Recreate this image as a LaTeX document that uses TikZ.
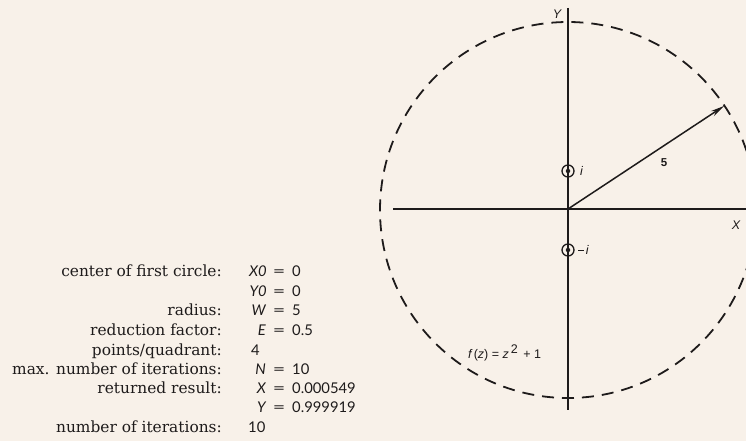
\documentclass[tikz,border=0pt]{standalone}
\usepackage{fontspec}
\setmainfont{DejaVu Serif}
\newfontfamily\valfont{Lato}
\newfontfamily\diafont{Liberation Sans}
\usetikzlibrary{arrows.meta}
\definecolor{paper}{RGB}{248,241,233}
\definecolor{ink}{RGB}{30,27,27}
\tikzset{
  axis/.style={draw=ink, line width=1.8pt},
  dashcirc/.style={draw=ink, line width=1.8pt, dash pattern=on 12pt off 8pt},
  radiusarrow/.style={draw=ink, line width=1.5pt, -{Stealth[length=14pt,width=6pt]}},
  rootmark/.style={circle, draw=ink, line width=1.3pt, minimum size=12pt, inner sep=0pt},
  rootdot/.style={circle, fill=ink, minimum size=4.5pt, inner sep=0pt},
  dialabel/.style={font=\diafont\itshape\fontsize{12.5}{14}\selectfont, text=ink, inner sep=0pt},
  lbl/.style={font=\fontsize{15.4}{18}\selectfont, text=ink, anchor=base east, inner sep=0pt},
  var/.style={font=\valfont\itshape\fontsize{14.8}{17}\selectfont, text=ink, anchor=base east, inner sep=0pt},
  eqs/.style={font=\valfont\fontsize{14.8}{17}\selectfont, text=ink, anchor=base, inner sep=0pt},
  val/.style={font=\valfont\fontsize{14.8}{17}\selectfont, text=ink, anchor=base west, inner sep=0pt}
}
\newcommand{\wideeq}{\scalebox{1.45}[1]{=}}
\begin{document}
\begin{tikzpicture}[x=1pt,y=-1pt]
\useasboundingbox (0,0) rectangle (746,441);
\fill[paper] (0,0) rectangle (746,441);
\begin{scope}
\clip (0,0) rectangle (746,441);
% axes
\coordinate (O) at (568,209);
\coordinate (Ytop) at (568,8);
\coordinate (Ybot) at (568,410);
\coordinate (Xl) at (393,209);
\coordinate (Xr) at (750,209);
\draw[axis] (Ytop) -- (Ybot);
\draw[axis] (Xl) -- (Xr);
% dashed circle
\coordinate (C) at (568,210);
\draw[dashcirc] (C) circle[radius=188pt];
% radius arrow
\coordinate (P) at (724,106);
\draw[radiusarrow] (O) -- (P);
\node[dialabel, font=\diafont\bfseries\fontsize{11.5}{13}\selectfont] (five) at (664,163) {5};
% roots
\node[rootmark] (ri) at (568,171) {};
\node[rootdot] (rid) at (ri.center) {};
\node[dialabel, anchor=west] (li) at (580,171) {i};
\node[rootmark] (rmi) at (568,250) {};
\node[rootdot] (rmid) at (rmi.center) {};
\node[dialabel, anchor=west] (lmi) at (578,250) {\upshape\diafont\rule[3.4pt]{5.5pt}{1.1pt}\,\itshape i};
% axis labels
\node[dialabel] (ylab) at (557,14) {Y};
\node[dialabel] (xlab) at (736,225) {X};
% function
\node[dialabel, anchor=base west, font=\diafont\fontsize{12.5}{14}\selectfont] (fz) at (468,358)
  {\itshape f\upshape\,(\itshape z\upshape) = \itshape z\upshape\,\raisebox{5pt}{2}\ \,+ 1};
\end{scope}
% parameter list
\node[lbl] (l1) at (222,276) {center of first circle:};
\node[var] (v1) at (267,276) {X0};
\node[eqs] (e1) at (279,276) {\wideeq};
\node[val] (n1) at (292,276) {0};
\node[var] (v2) at (267,296) {Y0};
\node[eqs] (e2) at (279,296) {\wideeq};
\node[val] (n2) at (292,296) {0};
\node[lbl] (l3) at (222,315) {radius:};
\node[var] (v3) at (266,315) {W};
\node[eqs] (e3) at (279,315) {\wideeq};
\node[val] (n3) at (292,315) {5};
\node[lbl] (l4) at (222,335) {reduction factor:};
\node[var] (v4) at (266,335) {E};
\node[eqs] (e4) at (279,335) {\wideeq};
\node[val] (n4) at (292,335) {0.5};
\node[lbl] (l5) at (222,355) {points/quadrant:};
\node[val] (n5) at (251,355) {4};
\node[lbl] (l6) at (222,374) {max. number of iterations:};
\node[var] (v6) at (266,374) {N};
\node[eqs] (e6) at (279,374) {\wideeq};
\node[val] (n6) at (292,374) {10};
\node[lbl] (l7) at (222,393) {returned result:};
\node[var] (v7) at (266,393) {X};
\node[eqs] (e7) at (279,393) {\wideeq};
\node[val] (n7) at (292,393) {0.000549};
\node[var] (v8) at (266,412) {Y};
\node[eqs] (e8) at (279,412) {\wideeq};
\node[val] (n8) at (292,412) {0.999919};
\node[lbl] (l9) at (222,432) {number of iterations:};
\node[val] (n9) at (248,432) {10};
\end{tikzpicture}
\end{document}
